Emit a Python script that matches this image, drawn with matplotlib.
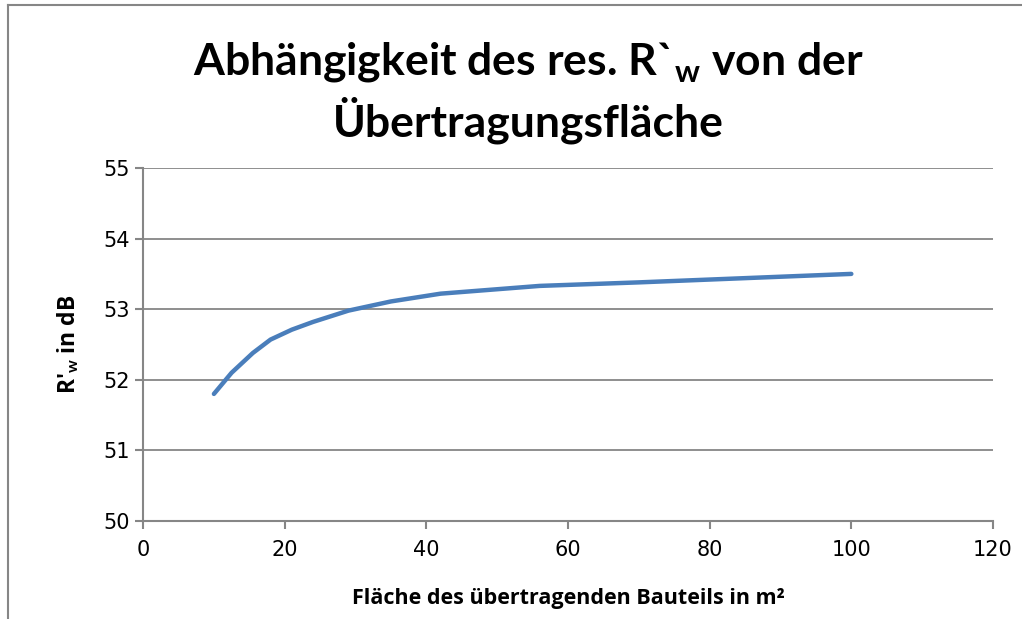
import matplotlib
matplotlib.use("Agg")
import matplotlib.pyplot as plt

# data
flaeche = [10, 12.5, 15.5, 18, 21, 24, 29, 35, 42, 56, 70, 100]
rw = [51.8, 52.1, 52.38, 52.57, 52.71, 52.82, 52.98, 53.11, 53.22, 53.33, 53.38, 53.5]
xticks = [0, 20, 40, 60, 80, 100, 120]
yticks = [50, 51, 52, 53, 54, 55]

plt.rcParams['mathtext.fontset'] = 'custom'
plt.rcParams['mathtext.rm'] = 'Lato'
plt.rcParams['mathtext.bf'] = 'Lato:bold'

fig = plt.figure(figsize=(10.22, 6.19), dpi=100)
ax = fig.add_axes([0.140, 0.1583, 0.8316, 0.5703])

gray = '#868686'
ax.plot(flaeche, rw, color='#4A7EBB', lw=3.2, solid_capstyle='round', zorder=3)

ax.set_xlim(0, 120)
ax.set_ylim(50, 55)
ax.set_xticks(xticks)
ax.set_yticks(yticks)
ax.grid(axis='y', color=gray, lw=1.3)
ax.set_axisbelow(True)
for s in ['top', 'right']:
    ax.spines[s].set_visible(False)
for s in ['left', 'bottom']:
    ax.spines[s].set_color(gray)
    ax.spines[s].set_linewidth(1.5)
ax.tick_params(colors=gray, width=1.5, length=6, labelsize=15, labelcolor='black')
ax.tick_params(axis='x', pad=8)

ax.set_xlabel('Fläche des übertragenden Bauteils in m²', fontsize=15.5,
              fontweight='bold', family='Open Sans', labelpad=20)
ax.set_ylabel(r"R'$_\mathbf{w}$ in dB", fontsize=16.5, fontweight='bold',
              family='Open Sans', labelpad=16)

fig.text(0.517, 0.90, r"Abhängigkeit des res. R`$_\mathbf{w}$ von der",
         ha='center', va='center', fontsize=32, fontweight='bold', family='Lato')
fig.text(0.517, 0.805, 'Übertragungsfläche', ha='center', va='center',
         fontsize=32, fontweight='bold', family='Lato')

# chart border (left and top edges visible)
fig.add_artist(plt.Line2D([0.008, 0.008], [0, 0.992], color=gray, lw=1.5,
                          transform=fig.transFigure))
fig.add_artist(plt.Line2D([0.008, 1.0], [0.992, 0.992], color=gray, lw=1.5,
                          transform=fig.transFigure))

fig.savefig('out.png', dpi=100)
